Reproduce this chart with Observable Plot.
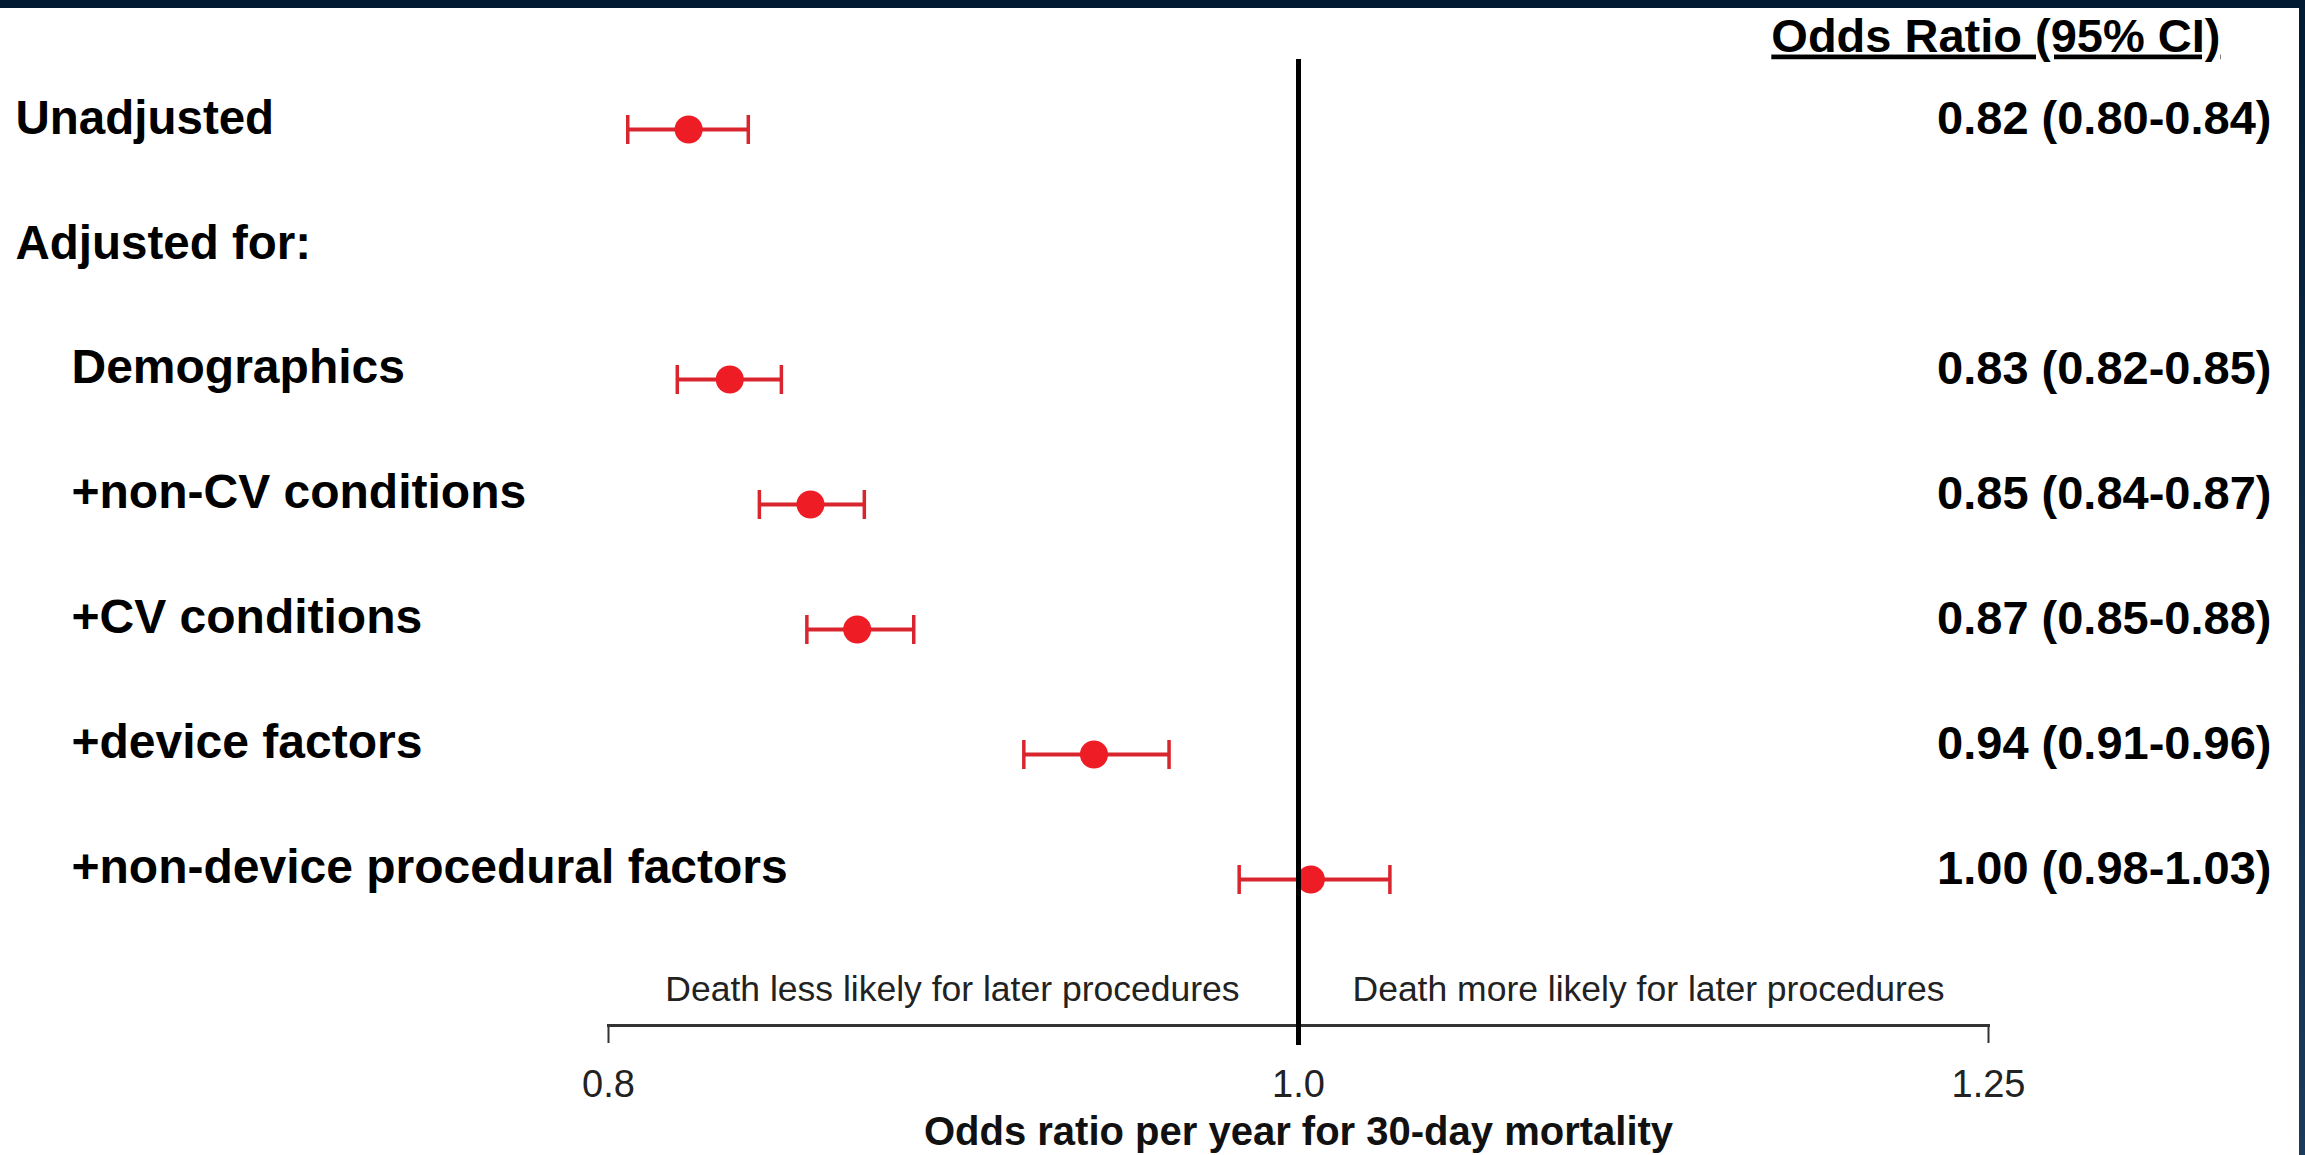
<!DOCTYPE html>
<html><head><meta charset="utf-8">
<script src="https://cdn.jsdelivr.net/npm/d3@7"></script>
<script src="https://cdn.jsdelivr.net/npm/@observablehq/plot@0.6"></script>
<style>
html,body{margin:0;padding:0;overflow:hidden;width:2305px;height:1155px;background:linear-gradient(#021b33,#1b3b5c);}
#chart{position:absolute;left:0;top:8px;width:2299px;height:1147px;background:#fff;}
</style></head><body><div id="chart"></div>
<script>
const labels = ["Unadjusted","Adjusted for:","Demographics","+non-CV conditions","+CV conditions","+device factors","+non-device procedural factors"];
const levels = [0,0,1,1,1,1,1];
const estimates = [0.821, null, 0.832, 0.854, 0.867, 0.936, 1.004];
const lower = [0.805, null, 0.818, 0.840, 0.853, 0.915, 0.981];
const upper = [0.837, null, 0.846, 0.869, 0.883, 0.959, 1.030];
const ciLabels = ["0.82 (0.80-0.84)", "", "0.83 (0.82-0.85)", "0.85 (0.84-0.87)", "0.87 (0.85-0.88)", "0.94 (0.91-0.96)", "1.00 (0.98-1.03)"];
const xTicks = [0.8, 1.0, 1.25];
const xTickLabels = ["0.8","1.0","1.25"];
const nullValue = 1.0;
const headerText = "Odds Ratio (95% CI)";
const axisTitle = "Odds ratio per year for 30-day mortality";
const leftNote = "Death less likely for later procedures";
const rightNote = "Death more likely for later procedures";

const rows = labels.map((label,i)=>({label, level:levels[i], est:estimates[i], lo:lower[i], hi:upper[i], ci:ciLabels[i]}));
const est = rows.filter(d=>d.est!=null);
const font = "'Liberation Sans', Arial, Helvetica, sans-serif";
const red = "#d9252d", dotRed = "#ee1c25";

// vertical bar symbol for the CI whisker caps (half-length = r)
const capSymbol = {
  draw(context, size) {
    const h = Math.sqrt(size / Math.PI);
    context.moveTo(0, -h);
    context.lineTo(0, h);
  }
};

const plot = Plot.plot({
  width: 2299, height: 1147,
  marginLeft: 608, marginRight: 311, marginTop: 51, marginBottom: 130,
  style: {fontFamily: font, background: "#fff", color: "#000"},
  x: {type: "log", domain: [0.8, 1.25]},
  y: {type: "point", domain: labels, range: [120, 872], padding: 0, axis: null},
  marks: [
    Plot.frame({anchor: "bottom", stroke: "#333", strokeWidth: 3}),
    Plot.axisX(xTicks, {tickSize: 18, tickPadding: 27, stroke: "#333", strokeWidth: 2, fill: "#222",
      tickFormat: d => xTickLabels[xTicks.indexOf(d)], fontSize: 38, label: null}),
    Plot.ruleY(est, {y: "label", x1: "lo", x2: "hi", stroke: red, strokeWidth: 4}),
    Plot.dot(est, {x: "lo", y: "label", r: 14.5, symbol: capSymbol, stroke: red, strokeWidth: 3.5, fill: "none"}),
    Plot.dot(est, {x: "hi", y: "label", r: 14.5, symbol: capSymbol, stroke: red, strokeWidth: 3.5, fill: "none"}),
    Plot.dot(est, {x: "est", y: "label", r: 14, fill: dotRed}),
    Plot.ruleX([nullValue], {stroke: "#000", strokeWidth: 5, insetBottom: -20}),
    Plot.text(rows.filter(d => d.level === 0), {y: "label", text: "label", frameAnchor: "left", textAnchor: "start",
      lineAnchor: "middle", dx: -593, dy: -11, fontSize: 47.5, fontWeight: "bold", fill: "#000"}),
    Plot.text(rows.filter(d => d.level === 1), {y: "label", text: "label", frameAnchor: "left", textAnchor: "start",
      lineAnchor: "middle", dx: -537, dy: -12, fontSize: 48, fontWeight: "bold", fill: "#000"}),
    Plot.text(est, {y: "label", text: "ci", frameAnchor: "right", textAnchor: "end",
      lineAnchor: "middle", dx: 283, dy: -11, fontSize: 47, fontWeight: "bold", fill: "#000"}),
    Plot.text([headerText], {text: d => d, frameAnchor: "top-right", textAnchor: "end", lineAnchor: "middle",
      dx: 232, dy: -23, fontSize: 47, fontWeight: "bold", fill: "#000"}),
    Plot.text([leftNote], {text: d => d, x: () => nullValue, frameAnchor: "bottom", textAnchor: "end", lineAnchor: "middle",
      dx: -59, dy: -36, fontSize: 35.5, fill: "#222"}),
    Plot.text([rightNote], {text: d => d, x: () => nullValue, frameAnchor: "bottom", textAnchor: "start", lineAnchor: "middle",
      dx: 54, dy: -36, fontSize: 35.5, fill: "#222"}),
    Plot.text([axisTitle], {text: d => d, frameAnchor: "bottom", lineAnchor: "middle", dy: 107, fontSize: 40, fontWeight: "bold", fill: "#111"})
  ]
});
plot.querySelectorAll("text").forEach(t => { if (t.textContent === headerText) t.style.textDecoration = "underline"; });
document.getElementById("chart").appendChild(plot);
</script></body></html>
